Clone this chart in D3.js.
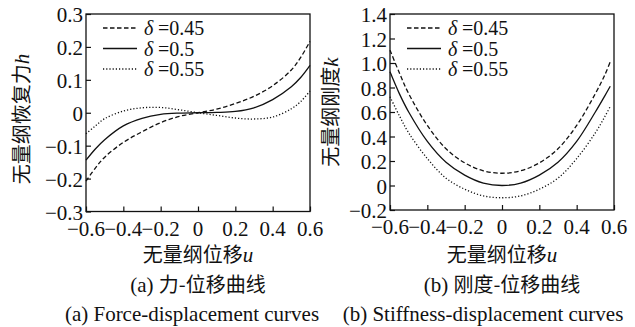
<!DOCTYPE html>
<html>
<head>
<meta charset="utf-8">
<script src="https://cdnjs.cloudflare.com/ajax/libs/d3/7.8.5/d3.min.js"></script>
<style>
    body { margin: 0; background: #fff; }
    svg { display: block; }
    .num { font-family: "Liberation Serif", "DejaVu Serif", serif; font-size: 21px; fill: #111; }
    .leg { font-family: "Liberation Serif", "DejaVu Serif", serif; font-size: 20px; fill: #111; }
    .cjk { font-family: "Noto Sans CJK SC", sans-serif; font-size: 20px; fill: #111; }
    .frame { fill: none; stroke: #111; stroke-width: 1.3; }
    .line { fill: none; stroke: #111; stroke-width: 1.3; }
    .dash { stroke-dasharray: 4.5 2.5; }
    .dot { stroke-dasharray: 1.2 2; }
</style>
</head>
<body>
<svg id="chart" width="635" height="327"></svg>
<script>
// force-displacement data
var uForce = [-0.6, -0.55, -0.5, -0.4, -0.3, -0.2, -0.1, 0, 0.1, 0.2, 0.3, 0.4, 0.5, 0.55, 0.6];
var hDelta045 = [-0.208, -0.168, -0.135, -0.09, -0.058, -0.03, -0.011, 0, 0.011, 0.028, 0.05, 0.082, 0.13, 0.168, 0.217];
var hDelta05 = [-0.144, -0.11, -0.082, -0.04, -0.017, -0.005, -0.001, 0, 0.001, 0.004, 0.015, 0.04, 0.079, 0.107, 0.144];
var hDelta055 = [-0.064, -0.04, -0.018, 0.005, 0.015, 0.016, 0.009, 0, -0.008, -0.016, -0.019, -0.013, 0.012, 0.034, 0.066];

// stiffness-displacement data
var uStiff = [-0.6, -0.55, -0.5, -0.4, -0.3, -0.2, -0.1, 0, 0.1, 0.2, 0.3, 0.4, 0.5, 0.55, 0.58];
var kDelta045 = [1.105, 0.92, 0.75, 0.49, 0.3, 0.185, 0.12, 0.1, 0.12, 0.185, 0.3, 0.49, 0.75, 0.9, 1.01];
var kDelta05 = [0.928, 0.75, 0.6, 0.36, 0.19, 0.085, 0.02, 0, 0.02, 0.085, 0.19, 0.36, 0.6, 0.73, 0.81];
var kDelta055 = [0.724, 0.57, 0.43, 0.22, 0.06, -0.03, -0.085, -0.1, -0.085, -0.03, 0.06, 0.22, 0.43, 0.56, 0.645];

var legendLabels = ["0.45", "0.5", "0.55"];
var xTicks = [-0.6, -0.4, -0.2, 0, 0.2, 0.4, 0.6];
var hTicks = [-0.3, -0.2, -0.1, 0, 0.1, 0.2, 0.3];
var kTicks = [-0.2, 0, 0.2, 0.4, 0.6, 0.8, 1.0, 1.2, 1.4];

var svg = d3.select("#chart");

function fmt(d) {
    return d === 0 ? "0" : d3.format(".1f")(d).replace("-", "\u2212");
}

function drawPanel(cfg) {
    var g = svg.append("g");

    var xScale = d3.scaleLinear().domain([-0.6, 0.6]).range([cfg.left, cfg.left + 224]);
    var yScale = d3.scaleLinear().domain(cfg.yDomain).range([cfg.bottom, cfg.top]);

    // inward ticks, left and bottom
    g.append("g")
        .attr("transform", "translate(0," + cfg.bottom + ")")
        .call(d3.axisBottom(xScale).tickValues(xTicks).tickSize(-5).tickFormat(""))
        .call(function (a) { a.select(".domain").remove(); a.selectAll("line").attr("stroke", "#111").attr("stroke-width", 1.2); });

    g.append("g")
        .attr("transform", "translate(" + cfg.left + ",0)")
        .call(d3.axisLeft(yScale).tickValues(cfg.yTicks).tickSize(-5).tickFormat(""))
        .call(function (a) { a.select(".domain").remove(); a.selectAll("line").attr("stroke", "#111").attr("stroke-width", 1.2); });

    g.append("rect")
        .attr("class", "frame")
        .attr("x", cfg.left)
        .attr("y", cfg.top)
        .attr("width", 224)
        .attr("height", cfg.bottom - cfg.top);

    // tick labels
    g.selectAll(".xlab")
        .data(xTicks)
        .enter().append("text")
        .attr("class", "num")
        .attr("x", function (d) { return xScale(d); })
        .attr("y", cfg.bottom + 24)
        .attr("text-anchor", "middle")
        .text(fmt);

    g.selectAll(".ylab")
        .data(cfg.yTicks)
        .enter().append("text")
        .attr("class", "num")
        .attr("x", cfg.left - 3)
        .attr("y", function (d) { return yScale(d) + 8; })
        .attr("text-anchor", "end")
        .text(fmt);

    var line = d3.line()
        .x(function (d) { return xScale(d[0]); })
        .y(function (d) { return yScale(d[1]); })
        .curve(d3.curveCatmullRom.alpha(0.5));

    var styles = ["dash", "", "dot"];

    cfg.series.forEach(function (s, i) {
        g.append("path")
            .datum(cfg.u.map(function (u, j) { return [u, s[j]]; }))
            .attr("class", "line " + styles[i])
            .attr("d", line);
    });

    // legend
    legendLabels.forEach(function (lab, i) {
        var ly = 28 + i * 20.5;
        g.append("line")
            .attr("class", "line " + styles[i])
            .attr("x1", cfg.left + 17).attr("x2", cfg.left + 51)
            .attr("y1", ly).attr("y2", ly);
        g.append("text")
            .attr("class", "leg")
            .attr("font-style", "italic")
            .attr("x", cfg.left + 58)
            .attr("y", ly + 7)
            .text("\u03b4");
        g.append("text")
            .attr("class", "leg")
            .attr("x", cfg.left + 72)
            .attr("y", ly + 7)
            .text("=" + lab);
    });

    // axis titles
    var xt = g.append("text")
        .attr("class", "cjk")
        .attr("x", cfg.left + 112)
        .attr("y", 262)
        .attr("text-anchor", "middle");
    xt.append("tspan").text("无量纲位移");
    xt.append("tspan").attr("class", "num").attr("font-style", "italic").text("u");

    var yt = g.append("text")
        .attr("class", "cjk")
        .attr("transform", "translate(" + cfg.yTitleX + "," + cfg.yTitleY + ") rotate(-90)")
        .attr("text-anchor", "middle");
    yt.append("tspan").text(cfg.yTitle);
    yt.append("tspan").attr("class", "num").attr("font-style", "italic").text(cfg.yVar);

    // captions
    var cap = g.append("text")
        .attr("class", "cjk")
        .attr("x", cfg.left + 112)
        .attr("y", 292)
        .attr("text-anchor", "middle");
    cap.append("tspan").attr("class", "num").text(cfg.capTag + " ");
    cap.append("tspan").text(cfg.capCn);

    g.append("text")
        .attr("class", "num")
        .attr("x", cfg.capEnX)
        .attr("y", 321)
        .attr("text-anchor", "middle")
        .text(cfg.capEn);
}

drawPanel({
    left: 86, top: 14, bottom: 211.5,
    yDomain: [-0.3, 0.3], yTicks: hTicks,
    u: uForce, series: [hDelta045, hDelta05, hDelta055],
    yTitle: "无量纲恢复力", yVar: "h", yTitleX: 29, yTitleY: 119,
    capTag: "(a)", capCn: "力-位移曲线",
    capEn: "(a) Force-displacement curves", capEnX: 192
});

drawPanel({
    left: 390, top: 14, bottom: 210,
    yDomain: [-0.2, 1.4], yTicks: kTicks,
    u: uStiff, series: [kDelta045, kDelta05, kDelta055],
    yTitle: "无量纲刚度", yVar: "k", yTitleX: 338, yTitleY: 112,
    capTag: "(b)", capCn: "刚度-位移曲线",
    capEn: "(b) Stiffness-displacement curves", capEnX: 483
});
</script>
</body>
</html>
